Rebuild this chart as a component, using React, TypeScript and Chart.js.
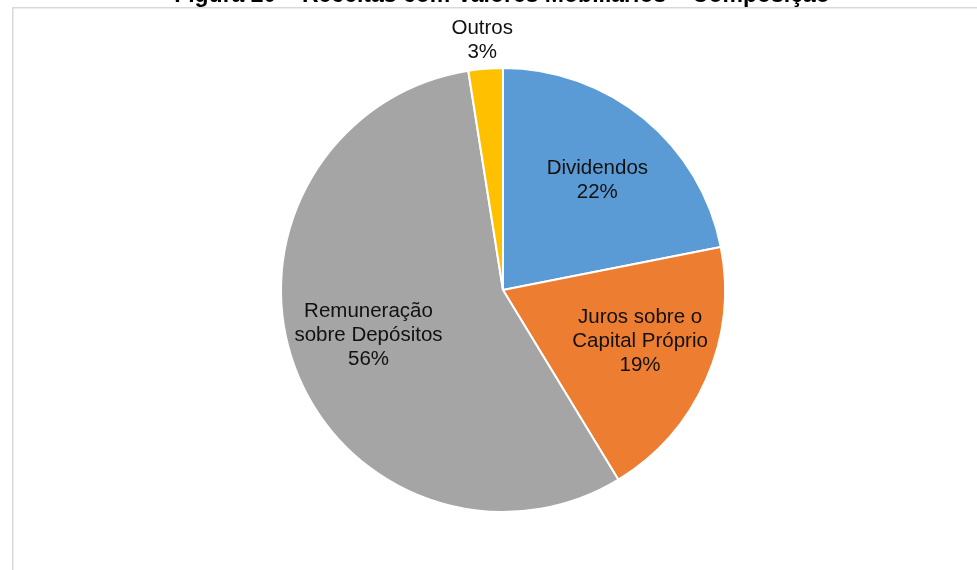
import React, { useEffect, useRef } from "react";
import { Chart, registerables } from "chart.js";

Chart.register(...registerables);

const titleText = "Figura 20 – Receitas com Valores Mobiliários – Composição";
const categories = ["Dividendos", "Juros sobre o Capital Próprio", "Remuneração sobre Depósitos", "Outros"];
const labelLines = [["Dividendos"], ["Juros sobre o", "Capital Próprio"], ["Remuneração", "sobre Depósitos"], ["Outros"]];
const values = [21.9, 19.4, 56.2, 2.5];
const colors = ["#5B9BD5", "#ED7D31", "#A5A5A5", "#FFC000"];
const outsideLabel = [false, false, false, true];

const FONT = "'Liberation Sans', Arial, sans-serif";
// small label placement nudges (px) to mimic the original label layout
const nudgeX = [2, 4, 2, -1];
const nudgeY = [3, -7, -5, 2];

const decorPlugin = {
  id: "decor",
  beforeDraw(chart: any) {
    const ctx = chart.ctx;
    ctx.save();
    ctx.strokeStyle = "#d9d9d9";
    ctx.lineWidth = 1.5;
    ctx.strokeRect(12.75, 7.75, 990, 600);
    ctx.fillStyle = "#000";
    ctx.font = `bold 23px ${FONT}`;
    ctx.textAlign = "center";
    ctx.textBaseline = "alphabetic";
    ctx.fillText(titleText, 502, 1.5);
    ctx.restore();
  },
  afterDatasetsDraw(chart: any) {
    const ctx = chart.ctx;
    const meta = chart.getDatasetMeta(0);
    const data = chart.data.datasets[0].data as number[];
    const total = data.reduce((a: number, b: number) => a + b, 0);
    ctx.save();
    ctx.fillStyle = "#111";
    ctx.font = `20.5px ${FONT}`;
    ctx.textAlign = "center";
    ctx.textBaseline = "middle";
    meta.data.forEach((arc: any, i: number) => {
      const p = arc.getProps(["x", "y", "startAngle", "endAngle", "outerRadius"], true);
      const mid = (p.startAngle + p.endAngle) / 2;
      const dist = outsideLabel[i] ? p.outerRadius + 30 : p.outerRadius * 0.655;
      const cx = p.x + Math.cos(mid) * dist + nudgeX[i];
      const cy = p.y + Math.sin(mid) * dist + nudgeY[i];
      const lines = [...labelLines[i], `${Math.round((data[i] / total) * 100)}%`];
      const lh = 24;
      const startY = cy - ((lines.length - 1) * lh) / 2;
      lines.forEach((t, k) => ctx.fillText(t, cx, startY + k * lh));
    });
    ctx.restore();
  },
};

export default function App() {
  const ref = useRef<HTMLCanvasElement>(null);
  useEffect(() => {
    if (!ref.current) return;
    const chart = new Chart(ref.current, {
      type: "pie",
      data: {
        labels: categories,
        datasets: [
          {
            data: values,
            backgroundColor: colors,
            borderColor: "#ffffff",
            borderWidth: 2,
          },
        ],
      },
      options: {
        animation: false,
        responsive: true,
        maintainAspectRatio: false,
        layout: { padding: { left: 29, right: 0, top: 67, bottom: 57 } },
        plugins: {
          legend: { display: false },
          tooltip: { enabled: false },
        },
      },
      plugins: [decorPlugin],
    });
    return () => chart.destroy();
  }, []);
  return (
    <div style={{ position: "fixed", left: 0, top: 0, width: 977, height: 570, background: "#fff" }}>
      <canvas ref={ref} />
    </div>
  );
}
